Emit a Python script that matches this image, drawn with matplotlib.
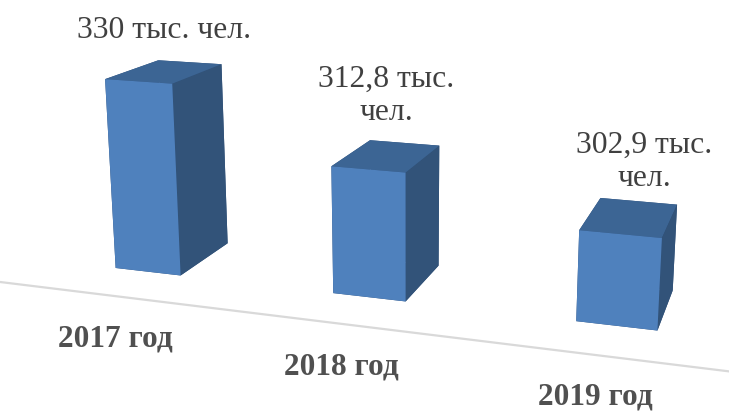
import numpy as np
import matplotlib
matplotlib.use('Agg')
import matplotlib.pyplot as plt

years = ['2017 год', '2018 год', '2019 год']
values = [330, 312.8, 302.9]
labels = ['330 тыс. чел.', '312,8 тыс.\nчел.', '302,9 тыс.\nчел.']
base = 281.3

plt.rcParams['font.family'] = ['Liberation Serif', 'DejaVu Serif']

fig = plt.figure(figsize=(7.29, 4.11), dpi=100)
ax = fig.add_axes([38 / 729, 54 / 411, 1, 1], projection='3d')
ax.set_proj_type('persp', focal_length=0.6)
ax.view_init(elev=14, azim=-72, roll=0)
ax.set_axis_off()

xpos = np.arange(3)
w = 0.31
d = 0.45
heights = [v - base for v in values]
colors = ['#2f4f78', '#3c6594', '#4f81bd', '#2f4f78', '#2f4f78', '#325379'] * 3
bars = ax.bar3d(xpos - w / 2, np.zeros(3), np.zeros(3), w, d, heights, color=colors, shade=False)
bars.set_clip_on(False)
line, = ax.plot([-0.52, 3.6], [-0.3, -0.3], [0, 0], color='#d9d9d9', lw=1.6)
line.set_clip_on(False)
ax.set_xlim(-0.5, 2.5)
ax.set_ylim(0, 1)
ax.set_zlim(0, 60)
ax.set_box_aspect((2.95, 1, 1.0), zoom=1.83)

label_pos = [(164, 30), (386, 96), (644, 162)]
for (px, py), s in zip(label_pos, labels):
    fig.text(px / 729, 1 - py / 411, s, ha='center', va='center', fontsize=22.8, color='#404040', linespacing=1.2)
year_pos = [(115, 339), (341, 367), (595, 397)]
for (px, py), s in zip(year_pos, years):
    fig.text(px / 729, 1 - py / 411, s, ha='center', va='center', fontsize=22.5, color='#505050', fontweight='bold')

fig.savefig('out.png', dpi=100)
